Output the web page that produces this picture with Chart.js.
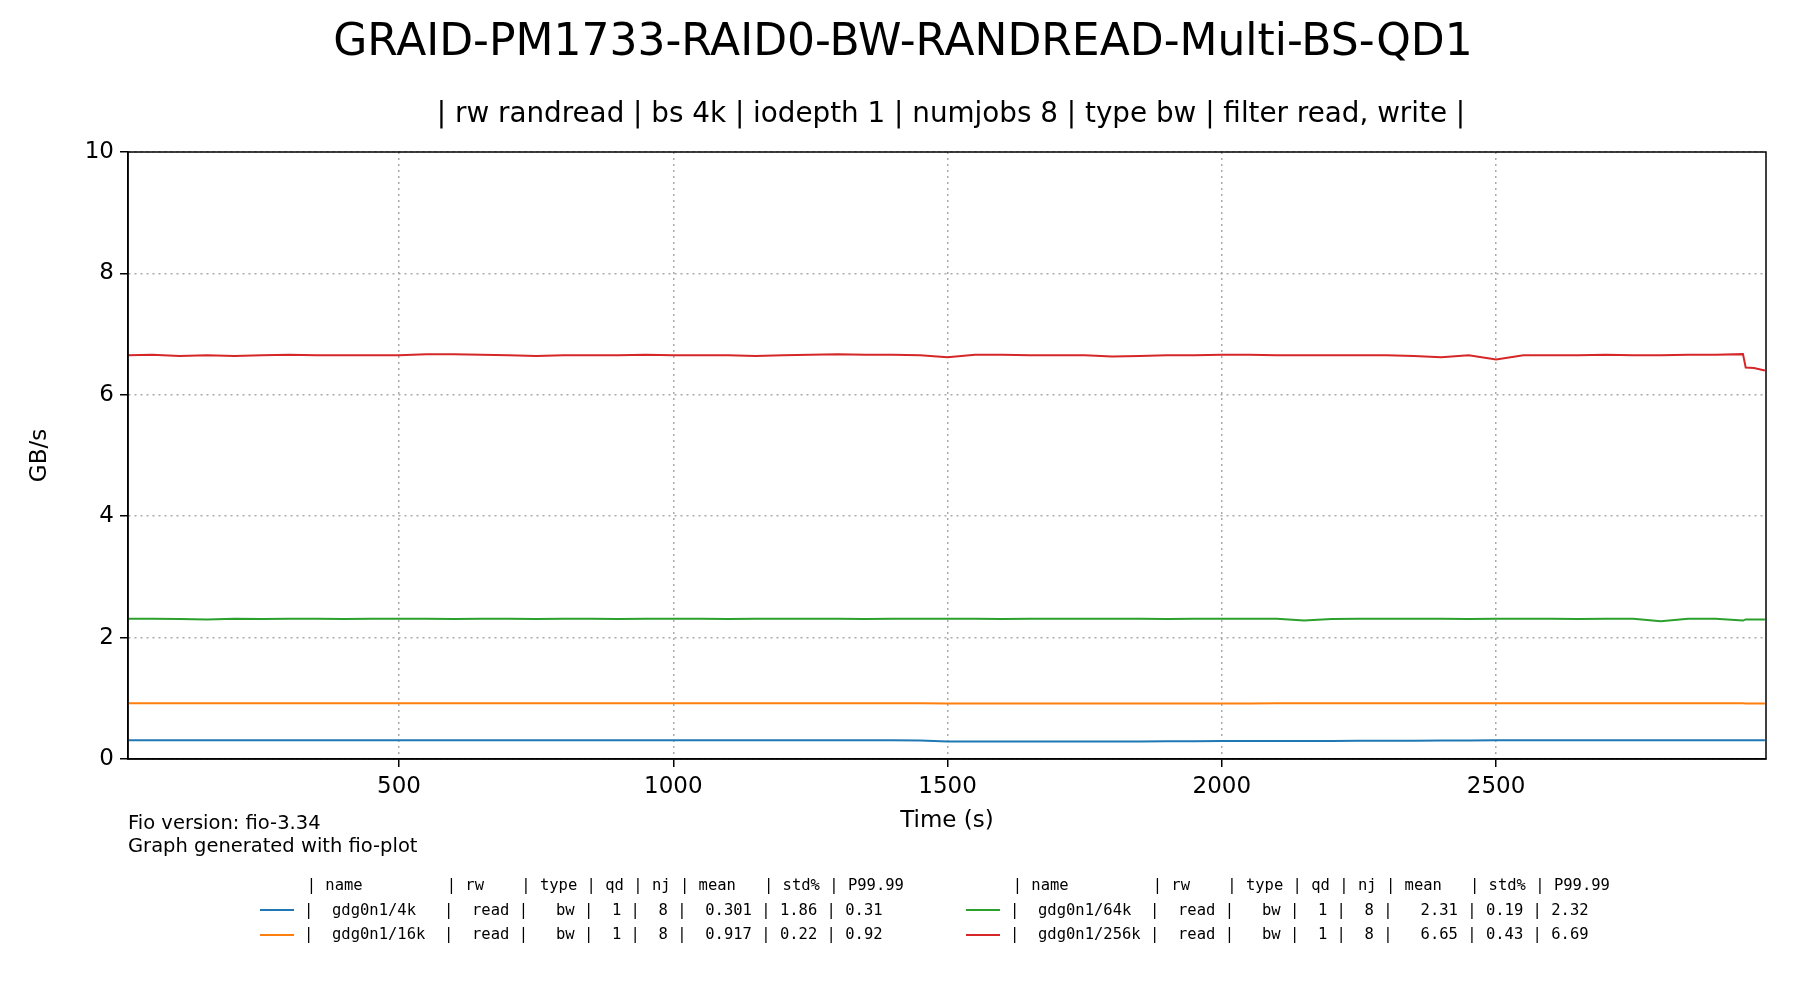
<!DOCTYPE html>
<html><head><meta charset="utf-8">
<script src="https://cdn.jsdelivr.net/npm/chart.js@4"></script>
<style>
body{margin:0;width:1800px;height:1000px;background:#fff;font-family:"DejaVu Sans",sans-serif;position:relative;overflow:hidden}
#c{position:absolute;left:0;top:0}
.t{position:absolute;white-space:pre;color:#000}
</style></head><body>
<canvas id="c" width="1800" height="1000"></canvas>
<div class="t" style="left:0;width:1806px;text-align:center;top:14px;font-size:44px">GRAID-PM1733-RAID0-BW-RANDREAD-Multi-BS-QD1</div>
<div class="t" style="left:0;width:1902px;text-align:center;top:96px;font-size:27.8px">| rw randread | bs 4k | iodepth 1 | numjobs 8 | type bw | filter read, write |</div>
<div class="t" style="left:128px;top:811px;font-size:19.5px;line-height:23px">Fio version: fio-3.34
Graph generated with fio-plot</div>
<div class="t" style="left:260px;top:873px;font-family:'DejaVu Sans Mono',monospace;font-size:15.5px;line-height:24.5px" id="lg1"></div>
<div class="t" style="left:966px;top:873px;font-family:'DejaVu Sans Mono',monospace;font-size:15.5px;line-height:24.5px" id="lg2"></div>
<script>
const times=[0,50,100,150,200,250,300,350,400,450,500,550,600,650,700,750,800,850,900,950,1000,1050,1100,1150,1200,1250,1300,1350,1400,1450,1500,1550,1600,1650,1700,1750,1800,1850,1900,1950,2000,2050,2100,2150,2200,2250,2300,2350,2400,2450,2500,2550,2600,2650,2700,2750,2800,2850,2900,2950,2955,2970,2990];
const bw4k=[0.31,0.31,0.31,0.31,0.31,0.31,0.31,0.31,0.31,0.31,0.31,0.31,0.31,0.31,0.31,0.31,0.31,0.31,0.31,0.31,0.31,0.31,0.31,0.31,0.31,0.31,0.31,0.31,0.31,0.305,0.29,0.29,0.29,0.29,0.29,0.29,0.29,0.29,0.292,0.294,0.295,0.296,0.297,0.298,0.298,0.299,0.30,0.302,0.304,0.306,0.308,0.31,0.31,0.31,0.31,0.31,0.31,0.31,0.31,0.31,0.31,0.31,0.31];
const bw16k=[0.92,0.92,0.92,0.92,0.92,0.92,0.92,0.92,0.92,0.92,0.92,0.92,0.92,0.92,0.92,0.918,0.918,0.918,0.918,0.918,0.918,0.918,0.918,0.918,0.918,0.918,0.918,0.918,0.918,0.918,0.915,0.915,0.915,0.915,0.915,0.915,0.915,0.915,0.915,0.915,0.915,0.915,0.918,0.918,0.918,0.918,0.918,0.918,0.918,0.918,0.918,0.92,0.92,0.92,0.92,0.92,0.92,0.92,0.918,0.918,0.915,0.915,0.915];
const bw64k=[2.31,2.31,2.305,2.30,2.31,2.305,2.31,2.31,2.305,2.31,2.31,2.31,2.305,2.31,2.31,2.305,2.31,2.31,2.305,2.31,2.31,2.31,2.305,2.31,2.31,2.31,2.31,2.305,2.31,2.31,2.31,2.31,2.305,2.31,2.31,2.31,2.31,2.31,2.305,2.31,2.31,2.31,2.31,2.28,2.305,2.31,2.31,2.31,2.31,2.305,2.31,2.31,2.31,2.305,2.31,2.31,2.27,2.31,2.31,2.28,2.30,2.30,2.30];
const bw256k=[6.65,6.66,6.64,6.65,6.64,6.65,6.66,6.65,6.65,6.65,6.65,6.67,6.67,6.66,6.65,6.64,6.65,6.65,6.65,6.66,6.65,6.65,6.65,6.64,6.65,6.66,6.67,6.66,6.66,6.65,6.62,6.66,6.66,6.65,6.65,6.65,6.63,6.64,6.65,6.65,6.66,6.66,6.65,6.65,6.65,6.65,6.65,6.64,6.62,6.65,6.58,6.65,6.65,6.65,6.66,6.65,6.65,6.66,6.66,6.67,6.45,6.44,6.40];
const names=["gdg0n1/4k","gdg0n1/16k","gdg0n1/64k","gdg0n1/256k"];
const colors=["#1f77b4","#ff7f0e","#2ca02c","#d62728"];
const xTicks=[500,1000,1500,2000,2500];
const yTicks=[0,2,4,6,8,10];
const legendRows=[
"|  gdg0n1/4k   |  read |   bw |  1 |  8 |  0.301 | 1.86 | 0.31",
"|  gdg0n1/16k  |  read |   bw |  1 |  8 |  0.917 | 0.22 | 0.92",
"|  gdg0n1/64k  |  read |   bw |  1 |  8 |   2.31 | 0.19 | 2.32",
"|  gdg0n1/256k |  read |   bw |  1 |  8 |   6.65 | 0.43 | 6.69"];
const hdr="     | name         | rw    | type | qd | nj | mean   | std% | P99.99";
const sw=c=>'<span style="display:inline-block;width:34px;height:2px;background:'+c+';vertical-align:middle;margin-right:10px"></span>';
document.getElementById('lg1').innerHTML=hdr+"\n"+sw(colors[0])+legendRows[0]+"\n"+sw(colors[1])+legendRows[1];
document.getElementById('lg2').innerHTML=hdr+"\n"+sw(colors[2])+legendRows[2]+"\n"+sw(colors[3])+legendRows[3];
const series=[bw4k,bw16k,bw64k,bw256k];
new Chart(document.getElementById('c'),{type:'line',
data:{datasets:series.map((s,i)=>({label:names[i],data:times.map((t,j)=>({x:t,y:s[j]})),borderColor:colors[i],borderWidth:2,pointRadius:0,tension:0}))},
options:{responsive:false,animation:false,
layout:{padding:{left:22,top:152,right:34,bottom:161}},
plugins:{legend:{display:false},tooltip:{enabled:false}},
scales:{
x:{type:'linear',min:6,max:2992,afterFit:s=>{s.height=80},
afterBuildTicks:s=>{s.ticks=xTicks.map(v=>({value:v}))},
ticks:{color:'#000',font:{size:23,family:'DejaVu Sans'},padding:6,maxRotation:0,callback:v=>String(v)},
grid:{color:'#aaa',tickColor:'#000',tickLength:8,lineWidth:1.5},
border:{color:'#000',width:1.5,dash:[2,4]},
title:{display:true,text:'Time (s)',color:'#000',font:{size:23,family:'DejaVu Sans'},padding:{top:12}}},
y:{min:0,max:10,afterFit:s=>{s.width=106},
afterBuildTicks:s=>{s.ticks=yTicks.map(v=>({value:v}))},
ticks:{color:'#000',font:{size:23,family:'DejaVu Sans'},padding:6},
grid:{color:'#aaa',tickColor:'#000',tickLength:8,lineWidth:1.5},
border:{color:'#000',width:1.5,dash:[2,4]},
title:{display:true,text:'GB/s',color:'#000',font:{size:23,family:'DejaVu Sans'},padding:{bottom:10}}}}},
plugins:[{id:'box',afterDraw(c){const a=c.chartArea,x=c.ctx;x.save();x.strokeStyle='#000';x.lineWidth=1.5;x.setLineDash([]);x.strokeRect(a.left,a.top,a.right-a.left,a.bottom-a.top);x.restore();}}]
});
</script></body></html>
